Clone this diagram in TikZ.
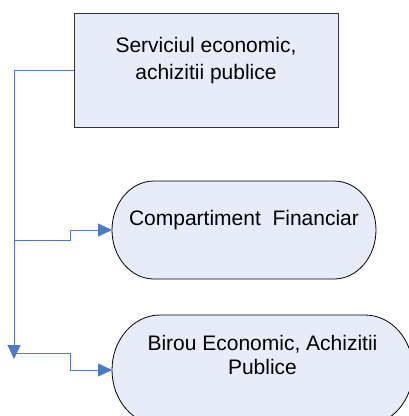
\documentclass[tikz,border=0pt]{standalone}
\usepackage{fontspec}
\setmainfont{Liberation Sans}
\usetikzlibrary{arrows.meta}
\definecolor{boxfill}{RGB}{231,237,248}
\definecolor{boxline}{RGB}{50,50,50}
\definecolor{linkblue}{RGB}{76,122,200}
\begin{document}
\begin{tikzpicture}[x=1pt,y=-1pt,
  txt/.style={font=\fontsize{21}{26}\selectfont, inner sep=0pt, anchor=base},
  unitbox/.style={draw=black, fill=boxfill, line width=0.8pt},
  link/.style={draw=linkblue, line width=0.9pt,
    -{Triangle[length=14pt,width=13pt,fill=linkblue]}}]
  \path[use as bounding box, clip] (0,0) rectangle (409,416);

  % head unit
  \node[draw=boxline, fill=boxfill, line width=0.8pt, inner sep=0pt,
        minimum width=264pt, minimum height=114pt] (sv) at (206,70) {};
  \node[txt] (svt1) at (206,52) {Serviciul economic,};
  \node[txt] (svt2) at (206,79.5) {achizitii publice};

  % Compartiment Financiar
  \draw[unitbox] (154,181) -- (334,181)
    arc[start angle=90, end angle=-90, x radius=42pt, y radius=49pt]
    -- (154,279)
    arc[start angle=-90, end angle=-270, x radius=42pt, y radius=49pt]
    -- cycle;
  \coordinate (cf) at (112,230);
  \node[txt] (cft) at (244,225) {Compartiment\ \ Financiar};

  % Birou Economic, Achizitii Publice
  \draw[unitbox] (160,315) -- (365,315)
    arc[start angle=90, end angle=-90, x radius=48pt, y radius=55pt]
    -- (160,425)
    arc[start angle=-90, end angle=-270, x radius=48pt, y radius=55pt]
    -- cycle;
  \coordinate (be) at (112,370);
  \node[txt] (bet1) at (262.5,350) {Birou Economic, Achizitii};
  \node[txt] (bet2) at (262.5,374) {Publice};

  % connectors
  \coordinate (trunkend) at (14,359);
  \coordinate (j1) at (14,240);
  \coordinate (j2) at (14,353);
  \draw[link] (sv.west) -| (trunkend);
  \draw[link] (j1) -- ++(56,0) |- (cf);
  \draw[link] (j2) -- ++(56,0) |- (be);
\end{tikzpicture}
\end{document}
